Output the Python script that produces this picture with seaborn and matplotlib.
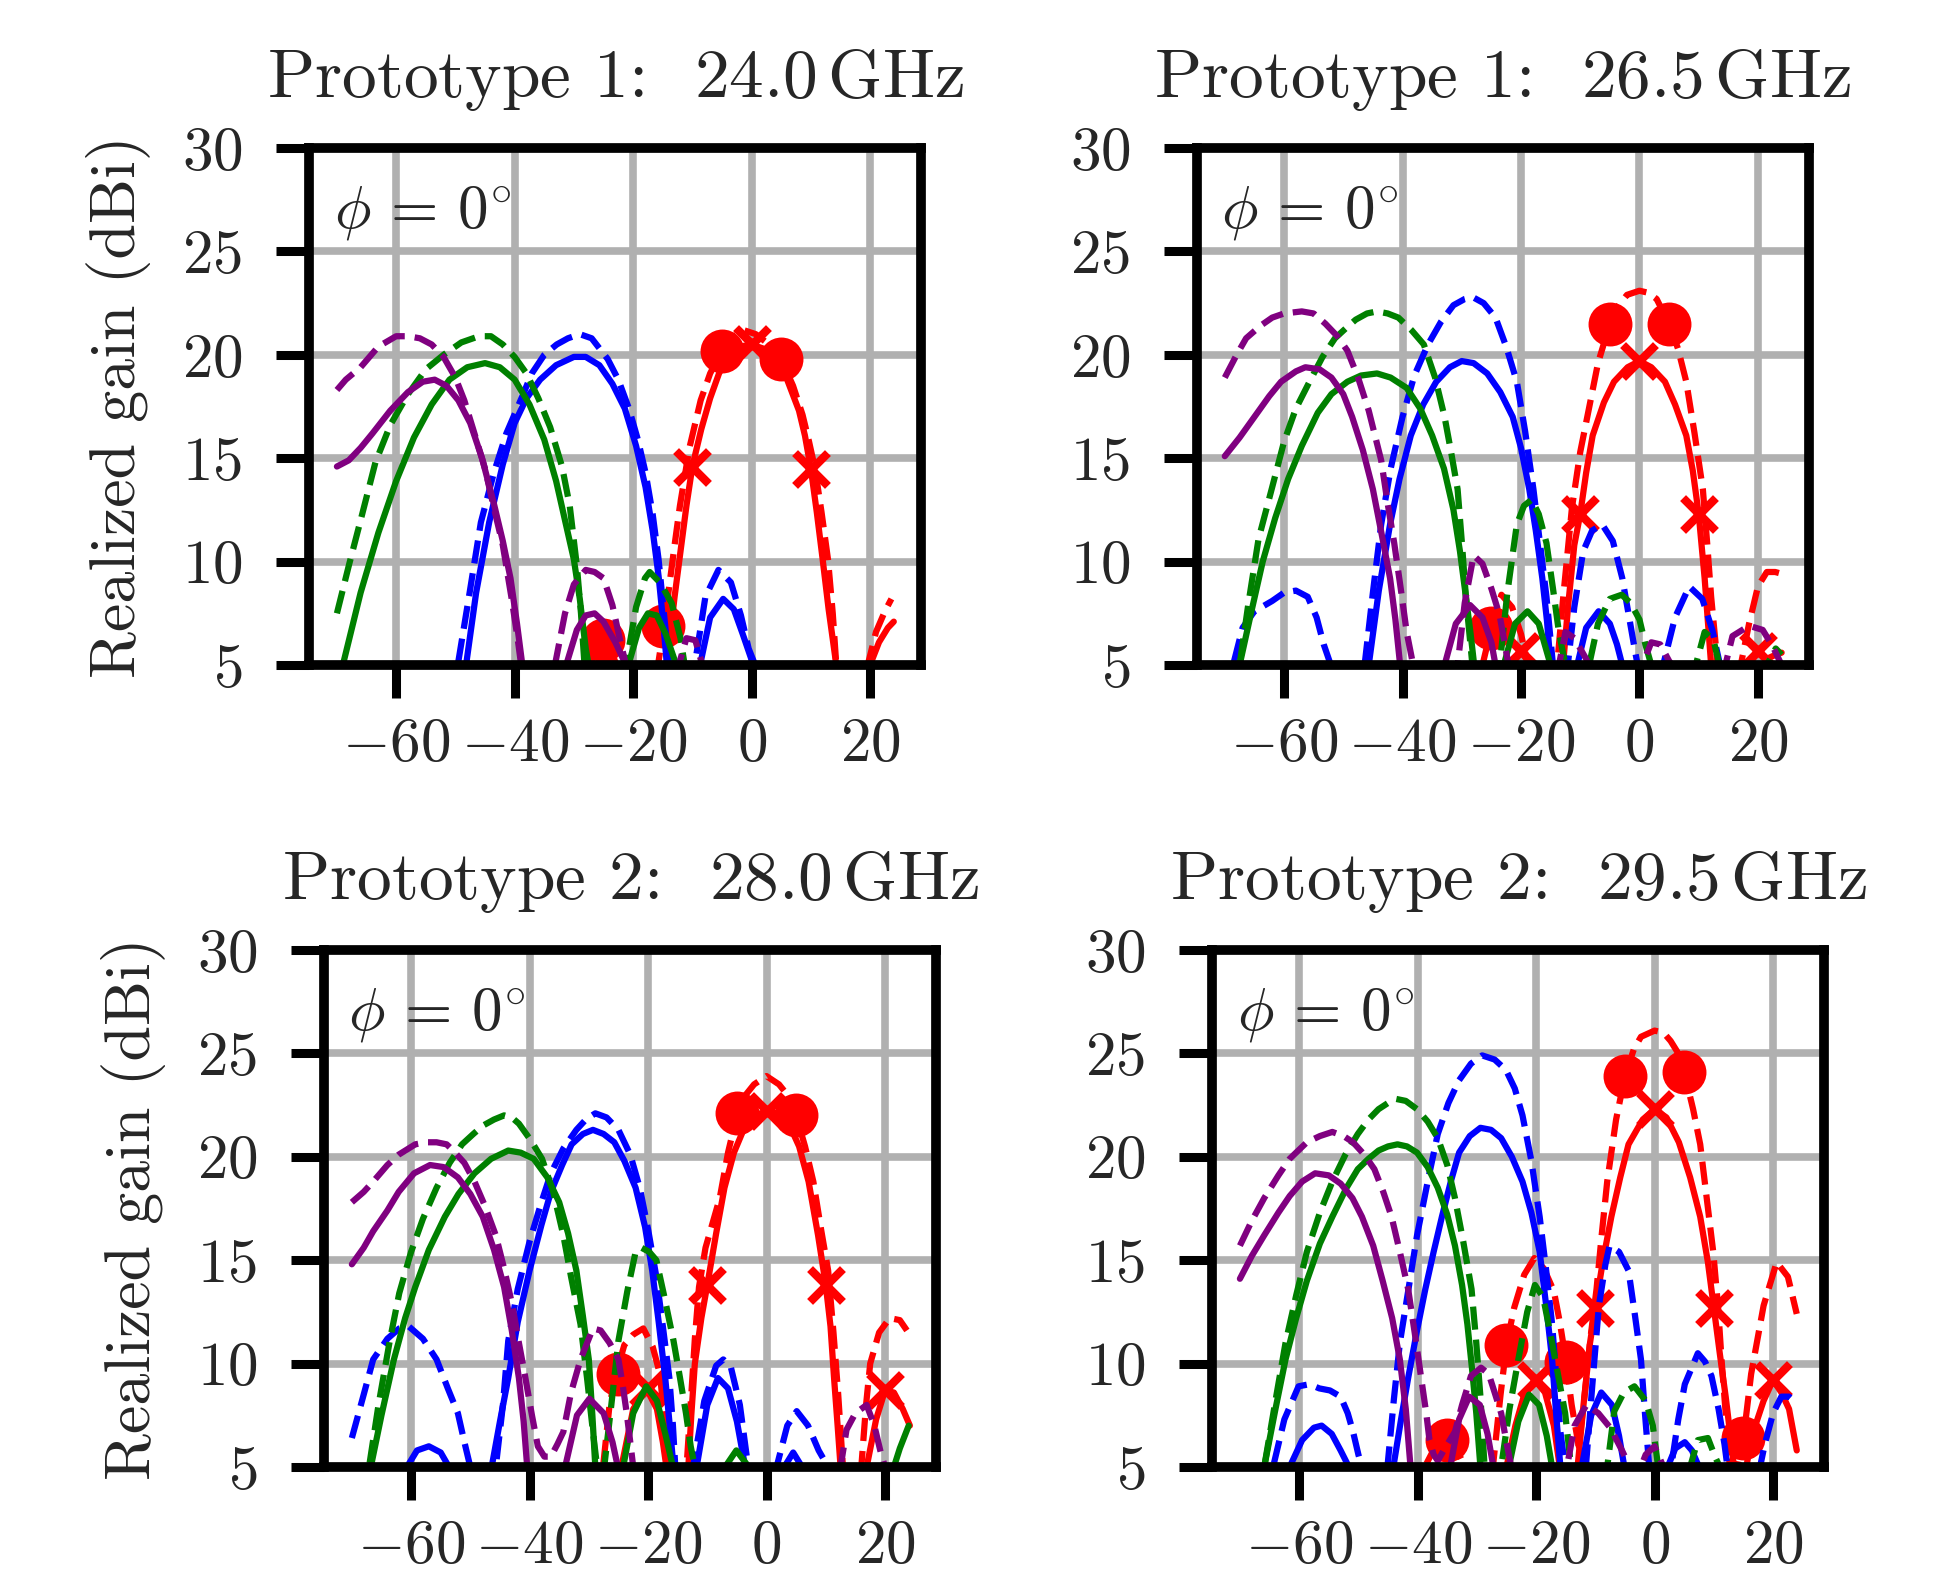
import matplotlib
matplotlib.use("Agg")
import matplotlib.pyplot as plt
import seaborn as sns

# ---------- data: (angle in deg, realized gain in dBi) ----------
# values below 5 dBi are nulls that fall outside the axis window

# Prototype 1 @ 24.0 GHz
P1_PURPLE_SOLID = [(-70, 14.6), (-68, 14.9), (-66, 15.5), (-64, 16.2), (-61, 17.3), (-58, 18.2), (-55.5, 18.7),
                   (-53.5, 18.8), (-51.5, 18.5), (-49.5, 17.8), (-47.5, 16.7), (-45.5, 15.0), (-43.5, 12.8),
                   (-42, 11.0), (-40.7, 9.2), (-39.6, 7.0), (-38.7, 5.0), (-37.5, 2.0), (-33, 2.0), (-31.3, 5.0),
                   (-29.5, 6.7), (-28, 7.4), (-26.5, 7.5), (-25, 7.1), (-23, 6.1), (-21.2, 5.0), (-20, 2.0)]
P1_PURPLE_DASHED = [(-70, 18.3), (-68.5, 18.8), (-66, 19.4), (-63, 20.4), (-60, 20.9), (-58, 20.9), (-56, 20.8),
                    (-54, 20.5), (-52, 19.9), (-50, 18.9), (-48.5, 17.8), (-47, 16.4), (-45, 14.5), (-43.5, 12.6),
                    (-42, 10.8), (-40.5, 8.2), (-39.5, 6.3), (-38.9, 5.0), (-37.5, 2.0), (-34.5, 2.0), (-33.2, 5.0),
                    (-31.5, 7.5), (-30, 8.9), (-28, 9.6), (-26.5, 9.5), (-25, 9.2), (-23.5, 7.9), (-22.2, 6.2),
                    (-21.2, 5.0), (-20, 2.0), (-13.5, 2.0), (-12.3, 5.0), (-11, 6.3), (-9.5, 6.2), (-8.3, 5.0),
                    (-7, 2.0)]
P1_GREEN_SOLID = [(-69, 5.0), (-66, 8.5), (-63, 11.4), (-60, 13.9), (-57, 16.0), (-54, 17.6), (-51, 18.8),
                  (-48, 19.4), (-45, 19.6), (-42.5, 19.4), (-40, 18.8), (-37.5, 17.6), (-35, 15.9), (-33, 13.9),
                  (-31.5, 12.0), (-30, 10.1), (-29, 8.2), (-28, 5.8), (-27.5, 5.0), (-26, 2.0), (-22, 2.0),
                  (-20.8, 5.0), (-19, 6.8), (-17.5, 7.5), (-16, 7.4), (-14.5, 6.5), (-12.7, 5.0), (-11.5, 2.0)]
P1_GREEN_DASHED = [(-70, 7.5), (-68, 9.8), (-66, 12.0), (-63.5, 14.8), (-61, 16.6), (-58, 18.1), (-55, 19.3),
                   (-52, 20.0), (-49, 20.6), (-46, 20.9), (-44, 20.9), (-42, 20.5), (-40, 19.9), (-38, 19.1),
                   (-36, 17.9), (-34, 16.5), (-32, 14.6), (-30.7, 12.7), (-29.5, 9.8), (-28.8, 7.5), (-28.2, 5.0),
                   (-27, 2.0), (-22.5, 2.0), (-21.2, 5.0), (-19.5, 7.8), (-18, 9.2), (-17.2, 9.5), (-15.5, 9.0),
                   (-13.5, 8.0), (-12, 6.3), (-11.3, 5.0), (-10, 2.0)]
P1_BLUE_SOLID = [(-50, 2.0), (-48.2, 5.0), (-46.5, 8.5), (-44.3, 11.9), (-42, 14.7), (-40, 16.7), (-38, 17.9),
                 (-35.7, 18.8), (-33, 19.5), (-30, 19.9), (-28, 19.9), (-25.7, 19.5), (-23.5, 18.6), (-21.4, 17.4),
                 (-19.5, 15.6), (-17.9, 13.6), (-16.7, 11.5), (-15.7, 9.3), (-14.9, 7.0), (-14.3, 5.0), (-13, 2.0),
                 (-10, 2.0), (-8.7, 5.0), (-7, 7.3), (-4.8, 8.2), (-3, 7.7), (-1.5, 6.5), (0.3, 5.0), (1.5, 2.0)]
P1_BLUE_DASHED = [(-51, 2.0), (-49.6, 5.0), (-47.6, 8.5), (-45.7, 11.9), (-43.5, 14.3), (-41.4, 16.2), (-39, 17.8),
                  (-37.1, 19.1), (-35, 20.0), (-32.9, 20.5), (-31, 20.8), (-29, 21.0), (-27, 20.8), (-24.3, 19.8),
                  (-22.5, 18.8), (-20.7, 17.4), (-19.2, 15.9), (-17.9, 14.3), (-16.7, 12.3), (-15.7, 10.1),
                  (-14.8, 7.5), (-13.9, 5.0), (-12.5, 2.0), (-11, 2.0), (-9.6, 5.0), (-7.8, 8.3), (-5.6, 9.6),
                  (-3.5, 9.0), (-1.8, 7.4), (-0.5, 5.8), (0.6, 5.0), (1.8, 2.0)]
P1_RED_SOLID = [(-16, 2.0), (-14.3, 5.0), (-13, 8.3), (-12, 10.5), (-11, 12.7), (-10, 14.6), (-8.5, 16.4),
                (-7, 17.9), (-5.5, 19.1), (-4, 19.9), (-2, 20.4), (0, 20.5), (2, 20.3), (4, 19.9), (6, 18.8),
                (8, 17.3), (9, 16.1), (10, 14.5), (11, 12.4), (12, 10.1), (13, 7.7), (14.3, 5.0), (16, 2.0),
                (18.5, 2.0), (20, 5.0), (21.5, 6.1), (23, 6.8), (24, 7.1)]
P1_RED_DASHED = [(-29, 2.0), (-27.3, 5.0), (-25.5, 6.3), (-24, 5.9), (-22.8, 5.0), (-21.5, 2.0), (-17, 2.0),
                 (-15.8, 5.0), (-15, 6.5), (-14, 8.6), (-13, 10.8), (-12.1, 12.7), (-10.5, 15.5), (-8.6, 17.8),
                 (-7, 19.1), (-5, 20.2), (-3, 20.9), (-1.4, 21.2), (0.7, 21.0), (2.5, 20.6), (5, 19.8), (7, 18.5),
                 (8.6, 17.1), (9.7, 15.8), (10.7, 14.5), (11.8, 12.4), (12.9, 10.1), (13.7, 7.5), (14.3, 5.0),
                 (15.5, 2.0), (18, 2.0), (19.6, 5.0), (21, 6.6), (22.5, 7.6), (23.6, 8.2)]
P1_RED_X = [(-10, 14.6), (0, 20.5), (10, 14.5)]
P1_RED_O = [(-25, 6.2), (-15, 6.9), (-5, 20.2), (5, 19.8)]

# Prototype 1 @ 26.5 GHz
P2_PURPLE_SOLID = [(-70, 15.1), (-67.5, 16.0), (-65, 17.0), (-62.5, 18.0), (-60.5, 18.7), (-58, 19.2),
                   (-56.4, 19.4), (-54, 19.3), (-52, 18.9), (-50, 18.1), (-48.5, 17.0), (-46.7, 15.4), (-45, 13.5),
                   (-43.5, 11.3), (-42.1, 9.2), (-41.2, 7.2), (-40.4, 5.0), (-39, 2.0), (-34.5, 2.0), (-32.9, 5.0),
                   (-31, 7.0), (-28.6, 7.9), (-26.5, 7.3), (-25, 6.1), (-24.3, 5.0), (-23, 2.0)]
P2_PURPLE_DASHED = [(-70, 18.9), (-68, 20.0), (-66.4, 20.8), (-64, 21.4), (-62, 21.8), (-60, 22.0), (-57, 22.1),
                    (-55, 22.0), (-53, 21.5), (-51, 20.9), (-49.3, 20.2), (-47.5, 18.9), (-45.7, 17.3),
                    (-43.6, 14.9), (-42.5, 12.8), (-41.4, 10.9), (-40.3, 8.7), (-39.3, 6.6), (-38.2, 5.0),
                    (-37, 2.0), (-32, 2.0), (-30.7, 5.0), (-29.5, 8.0), (-28, 10.3), (-26.5, 9.9), (-25, 8.7),
                    (-23.6, 7.4), (-22.1, 5.0), (-21, 2.0), (-14.5, 2.0), (-13.6, 5.0), (-12.5, 6.6), (-11, 6.3),
                    (-9, 5.3), (-8.5, 5.0), (-7.5, 2.0), (-0.5, 2.0), (0.5, 5.0), (2, 6.1), (3.5, 6.0), (5, 5.2),
                    (5.5, 5.0), (6.5, 2.0), (13.5, 2.0), (14.5, 5.0), (15.7, 6.4), (18.5, 6.9), (20.8, 6.7),
                    (22.5, 5.9), (24, 5.0)]
P2_GREEN_SOLID = [(-69, 2.0), (-67.5, 5.0), (-65.5, 7.6), (-63.6, 10.0), (-61.5, 12.1), (-59.3, 14.0), (-57, 15.6),
                  (-54.3, 17.2), (-52, 18.1), (-49.3, 18.7), (-47, 19.0), (-44.3, 19.1), (-42, 18.9), (-39.3, 18.4),
                  (-37, 17.4), (-35, 16.1), (-33, 14.5), (-31.4, 12.5), (-30.3, 10.5), (-29.3, 8.3), (-28.5, 6.5),
                  (-27.9, 5.0), (-26.5, 2.0), (-24.5, 2.0), (-22.9, 5.0), (-21, 7.0), (-18.9, 7.6), (-17, 7.0),
                  (-15, 5.0), (-14, 2.0)]
P2_GREEN_DASHED = [(-69, 2.0), (-67.5, 5.0), (-66, 8.0), (-64.3, 11.1), (-62, 13.6), (-60, 15.8), (-58, 17.4),
                   (-55.7, 18.7), (-53.5, 19.9), (-51.4, 20.8), (-49.5, 21.3), (-47.9, 21.7), (-46, 22.0),
                   (-44.3, 22.1), (-42.5, 22.0), (-40.7, 21.8), (-38.5, 21.2), (-36.4, 20.5), (-34.5, 18.9),
                   (-32.9, 17.0), (-31.8, 15.3), (-30.7, 13.5), (-30, 11.0), (-29.3, 8.3), (-28.7, 6.5),
                   (-28.2, 5.0), (-27, 2.0), (-25, 2.0), (-23.6, 5.0), (-22.3, 8.5), (-20.7, 11.8), (-19.5, 12.7),
                   (-18.2, 13.0), (-17, 12.3), (-15.7, 10.9), (-14.6, 8.7), (-13.6, 6.6), (-12.5, 5.0), (-11, 2.0),
                   (-9.5, 2.0), (-8.5, 5.0), (-7, 7.0), (-5, 8.2), (-3, 8.4), (-1.5, 8.0), (0, 7.2), (1, 6.0),
                   (2, 5.0), (3, 2.0), (8.5, 2.0), (9.5, 5.0), (11, 6.6), (12.5, 6.2), (13.5, 5.0), (14.5, 2.0),
                   (20.5, 2.0), (21.5, 5.0), (23, 5.8), (24, 5.5)]
P2_BLUE_SOLID = [(-47.5, 2.0), (-45.7, 5.0), (-44, 8.6), (-42.1, 11.8), (-40.5, 14.0), (-38.6, 16.1), (-36.5, 17.6),
                 (-34.3, 18.7), (-32, 19.4), (-30, 19.7), (-28, 19.6), (-25.7, 19.1), (-23.5, 18.2), (-21.4, 17.0),
                 (-20, 15.5), (-18.6, 13.5), (-17.5, 11.5), (-16.4, 9.2), (-15.6, 7.1), (-15, 5.0), (-13.5, 2.0),
                 (-12, 2.0), (-10.5, 5.0), (-9, 6.8), (-6.9, 7.6), (-5, 7.0), (-3.8, 6.0), (-2.9, 5.0), (-1.5, 2.0)]
P2_BLUE_DASHED = [(-70, 2.0), (-68.6, 5.0), (-67, 6.8), (-65, 7.6), (-62, 8.1), (-60, 8.5), (-58, 8.6), (-56, 8.3),
                  (-54.5, 7.3), (-53.3, 6.0), (-52.1, 5.0), (-51, 2.0), (-48, 2.0), (-46.4, 5.0), (-45, 8.5),
                  (-43.6, 11.8), (-42, 14.5), (-40, 17.0), (-38, 19.0), (-35.7, 20.5), (-33.5, 21.6), (-31.4, 22.4),
                  (-29.5, 22.7), (-28.2, 22.8), (-26.3, 22.5), (-24.3, 21.8), (-22.5, 20.4), (-20.7, 18.7),
                  (-19.3, 16.3), (-17.9, 13.5), (-16.8, 10.9), (-15.7, 8.3), (-15.1, 6.5), (-14.6, 5.0),
                  (-13.5, 2.0), (-13, 2.0), (-12.1, 5.0), (-11, 7.8), (-9.5, 10.5), (-8, 11.5), (-6.3, 11.8),
                  (-4.5, 11.0), (-2.9, 9.2), (-1.8, 7.4), (-0.7, 5.6), (-0.3, 5.0), (1, 2.0), (2.8, 2.0), (4, 5.0),
                  (6, 7.3), (8.4, 8.8), (10.6, 8.2), (12.3, 6.7), (13.6, 5.0), (15, 2.0)]
P2_RED_SOLID = [(-23, 2.0), (-21.5, 5.0), (-20, 5.7), (-18.5, 5.0), (-17, 2.0), (-14.5, 2.0), (-12.9, 5.0),
                (-12, 8.0), (-11, 10.8), (-10, 12.3), (-9, 14.3), (-7.9, 16.1), (-6, 17.7), (-4.3, 18.7),
                (-2, 19.4), (0, 19.7), (2, 19.4), (4.3, 18.7), (6, 17.6), (7.9, 16.1), (9, 14.4), (10, 12.3),
                (11, 9.2), (12.1, 5.0), (13, 2.0), (17.5, 2.0), (18.5, 5.0), (20, 5.7), (21.5, 5.3), (23, 5.5),
                (24, 5.6)]
P2_RED_DASHED = [(-28, 2.0), (-26.5, 5.0), (-25, 6.8), (-23.3, 8.4), (-21.5, 7.8), (-20, 6.5), (-18.8, 5.0),
                 (-17.5, 2.0), (-15, 2.0), (-13.9, 5.0), (-12.8, 8.5), (-11.4, 12.6), (-10, 15.3), (-8.6, 17.3),
                 (-7, 19.6), (-5, 21.5), (-3.5, 22.4), (-2.1, 22.9), (0, 23.1), (1.5, 23.0), (2.9, 22.7), (5, 21.5),
                 (6.5, 20.3), (7.9, 18.7), (9.3, 16.2), (10.7, 13.5), (11.4, 11.0), (12.1, 8.3), (12.7, 6.5),
                 (13.2, 5.0), (14.5, 2.0), (16, 2.0), (17.1, 5.0), (18.5, 7.0), (20, 8.8), (21.5, 9.5),
                 (22.9, 9.5), (24.2, 9.4)]
P2_RED_X = [(-20, 5.7), (-10, 12.3), (0, 19.7), (10, 12.3), (20, 5.7)]
P2_RED_O = [(-25, 6.8), (-5, 21.5), (5, 21.5)]

# Prototype 2 @ 28.0 GHz
P3_PURPLE_SOLID = [(-70, 14.8), (-68, 15.6), (-66.4, 16.4), (-64, 17.4), (-62.1, 18.3), (-59.5, 19.2),
                   (-56.8, 19.6), (-54.5, 19.5), (-52.1, 19.0), (-50, 18.2), (-47.9, 17.1), (-46, 15.5),
                   (-44.3, 13.7), (-43, 11.6), (-41.8, 9.3), (-41, 7.2), (-40.4, 5.0), (-39, 2.0), (-35.5, 2.0),
                   (-34, 5.0), (-32, 7.5), (-29.9, 8.3), (-27.5, 7.6), (-26, 6.2), (-25.1, 5.0), (-24, 2.0)]
P3_PURPLE_DASHED = [(-70, 17.8), (-68, 18.3), (-66.4, 18.8), (-64, 19.6), (-62.1, 20.1), (-59.3, 20.6),
                    (-57.5, 20.7), (-55.7, 20.7), (-54, 20.6), (-52.9, 20.3), (-51, 19.7), (-49.3, 18.8),
                    (-47.5, 17.6), (-45.7, 16.2), (-44.3, 14.6), (-42.9, 12.8), (-41.8, 11.0), (-40.7, 9.3),
                    (-39.6, 7.5), (-38.6, 6.0), (-37.5, 5.5), (-36.4, 5.5), (-35.3, 6.1), (-34.3, 6.7),
                    (-33, 8.6), (-31.4, 10.2), (-29.3, 11.7), (-28, 11.6), (-26.5, 11.0), (-25, 10.2),
                    (-24.3, 9.0), (-23.6, 7.6), (-23, 6.2), (-22.5, 5.0), (-21.5, 2.0), (11.5, 2.0), (12.5, 5.0),
                    (13.5, 6.8), (15, 7.6), (16.9, 8.0), (18.2, 7.0), (19.2, 5.8), (20, 5.0), (21, 2.0)]
P3_GREEN_SOLID = [(-68, 2.0), (-66.8, 5.0), (-65, 7.5), (-62.9, 10.2), (-61, 12.2), (-59.3, 13.7), (-57, 15.5),
                  (-54.3, 17.1), (-52, 18.2), (-49.3, 19.2), (-46.5, 19.9), (-43.6, 20.3), (-41.5, 20.2),
                  (-39.3, 19.9), (-37, 19.0), (-35, 17.8), (-33.5, 16.3), (-32.1, 14.5), (-31, 12.3), (-30, 10.2),
                  (-29.4, 7.5), (-28.9, 5.0), (-27.5, 2.0), (-25.5, 2.0), (-24.2, 5.0), (-22.5, 7.6),
                  (-20.3, 8.9), (-18.5, 8.2), (-17, 6.5), (-15.8, 5.0), (-14.5, 2.0), (-8, 2.0), (-7, 5.0),
                  (-5.1, 5.8), (-3, 5.0), (-2, 2.0), (20.5, 2.0), (21.5, 5.0), (22.5, 5.9), (24, 7.0)]
P3_GREEN_DASHED = [(-68, 2.0), (-67.1, 5.0), (-65.5, 8.0), (-63.6, 11.1), (-62, 13.4), (-60, 15.4), (-58, 17.0),
                   (-55.7, 18.5), (-53.5, 19.7), (-51.4, 20.6), (-49.5, 21.1), (-47.9, 21.5), (-46, 21.8),
                   (-44.3, 22.0), (-43, 21.9), (-41.8, 21.6), (-39.8, 20.8), (-37.9, 19.9), (-36, 18.3),
                   (-34.3, 16.2), (-33, 14.2), (-31.4, 11.9), (-30.3, 9.3), (-29.3, 6.7), (-28.6, 5.0), (-28, 4.0),
                   (-27.4, 5.0), (-26.2, 8.0), (-25, 11.1), (-23.5, 13.5), (-22.1, 15.4), (-21.1, 15.6),
                   (-19.8, 15.4), (-18.6, 15.0), (-17.3, 13.3), (-15.7, 11.1), (-14.6, 9.3), (-13.6, 7.6),
                   (-12.8, 6.0), (-12.1, 5.0), (-11, 2.0)]
P3_BLUE_SOLID = [(-62, 2.0), (-60.7, 5.0), (-59, 5.8), (-57, 6.0), (-55, 5.7), (-53.6, 5.0), (-52, 2.0), (-48, 2.0),
                 (-46.4, 5.0), (-45, 7.2), (-43.6, 9.3), (-42, 12.0), (-40, 14.5), (-38, 16.7), (-36.4, 18.3),
                 (-34.5, 19.6), (-32.9, 20.6), (-31, 21.1), (-29.3, 21.3), (-27.5, 21.1), (-25.7, 20.7),
                 (-24, 19.8), (-22.1, 18.5), (-20.5, 16.6), (-19.3, 14.5), (-18.2, 12.0), (-17.1, 9.3),
                 (-16.4, 7.2), (-15.7, 5.0), (-14.5, 2.0), (-13, 2.0), (-11.8, 5.0), (-10, 8.0), (-8.2, 9.3),
                 (-6.5, 8.8), (-5, 7.2), (-3.6, 5.0), (-2.5, 2.0), (1.5, 2.0), (3, 5.0), (4.5, 5.7), (6, 5.0),
                 (7, 2.0)]
P3_BLUE_DASHED = [(-70, 6.4), (-68, 8.5), (-66.4, 10.2), (-64, 11.2), (-62, 11.7), (-60.4, 11.8), (-58, 11.2),
                  (-55.7, 10.2), (-53.8, 8.8), (-52.1, 7.6), (-51, 6.2), (-50, 5.0), (-48.5, 2.0), (-47, 2.0),
                  (-45.7, 5.0), (-44.5, 8.0), (-43.6, 11.1), (-42, 13.6), (-40, 15.9), (-38, 17.8), (-36.4, 19.2),
                  (-34.3, 20.4), (-32.1, 21.3), (-30.5, 21.8), (-28.9, 22.1), (-27, 21.9), (-25, 21.3),
                  (-23, 20.1), (-21.4, 18.5), (-20, 16.5), (-18.6, 14.2), (-17.5, 11.8), (-16.4, 9.3),
                  (-15.8, 7.0), (-15.4, 5.0), (-14, 2.0), (-13.5, 2.0), (-12.4, 5.0), (-10.5, 8.2), (-8.5, 9.9),
                  (-7.3, 10.2), (-6, 9.8), (-4.5, 8.0), (-3.1, 5.0), (-2, 2.0), (0.5, 2.0), (1.7, 5.0), (3.5, 7.0),
                  (5.1, 7.7), (7, 7.0), (8.8, 5.8), (10.4, 5.0), (11.5, 2.0)]
P3_RED_SOLID = [(-26, 2.0), (-24.5, 5.0), (-22.5, 7.8), (-20.3, 8.8), (-18.5, 7.8), (-17.5, 6.2), (-16.9, 5.0),
                (-15.5, 2.0), (-14, 2.0), (-13.2, 5.0), (-12.7, 7.5), (-12.1, 10.0), (-11, 12.2), (-10, 13.8),
                (-8.5, 16.3), (-7.1, 18.5), (-5.5, 20.2), (-3.6, 21.5), (-2, 22.0), (0, 22.2), (1.8, 22.1),
                (3.6, 21.7), (5.5, 20.5), (7.1, 18.8), (8.7, 16.2), (10, 13.8), (10.8, 11.8), (11.4, 9.3),
                (12, 7.0), (12.5, 5.0), (13.5, 2.0), (15.5, 2.0), (16.9, 5.0), (18.5, 7.3), (20, 8.7),
                (21.5, 8.6), (23, 7.8), (24.2, 7.0)]
P3_RED_DASHED = [(-28.5, 2.0), (-27.6, 5.0), (-26.5, 8.0), (-25.3, 9.6), (-24, 10.9), (-22.5, 11.4), (-20.8, 11.7),
                 (-19.2, 10.8), (-18, 9.5), (-17.3, 7.5), (-16.9, 5.0), (-16, 2.0), (-14.5, 2.0), (-13.5, 5.0),
                 (-12.7, 8.5), (-12.1, 11.2), (-11.4, 13.7), (-10.3, 15.6), (-7.9, 18.0), (-6.5, 20.2), (-5, 22.0),
                 (-3.5, 23.0), (-2.1, 23.5), (0, 23.9), (2.1, 23.5), (3.5, 23.0), (5, 22.0), (6.5, 20.5),
                 (7.9, 18.8), (9.2, 16.5), (10.4, 14.5), (11.3, 11.5), (12.1, 8.5), (12.9, 5.0), (14, 2.0),
                 (15, 2.0), (16, 5.0), (16.8, 8.0), (17.5, 10.0), (19, 11.5), (20.8, 12.2), (22.5, 12.1),
                 (23.7, 11.6)]
P3_RED_X = [(-20, 8.8), (-10, 13.8), (0, 22.2), (10, 13.8), (20, 8.7)]
P3_RED_O = [(-25, 9.5), (-5, 22.1), (5, 22.0)]

# Prototype 2 @ 29.5 GHz
P4_PURPLE_SOLID = [(-70, 14.1), (-68, 15.2), (-65.9, 16.2), (-63.5, 17.3), (-61.6, 18.1), (-59.5, 18.8),
                   (-57.3, 19.2), (-55, 19.1), (-53, 18.7), (-51, 18.0), (-49.4, 17.1), (-47.5, 15.7),
                   (-45.9, 14.0), (-44.3, 12.2), (-43, 10.2), (-42, 7.8), (-41.2, 5.0), (-40, 2.0), (-36, 2.0),
                   (-34.5, 5.0), (-33, 7.3), (-31.3, 8.4), (-29.5, 8.0), (-28.2, 6.6), (-27.2, 5.0), (-26, 2.0)]
P4_PURPLE_DASHED = [(-70, 15.7), (-68, 16.9), (-65.9, 18.0), (-63.5, 19.1), (-61.6, 19.9), (-58.7, 20.7),
                    (-56.5, 21.0), (-54.4, 21.2), (-52.5, 21.0), (-50.9, 20.7), (-49, 20.1), (-47.3, 19.4),
                    (-45.8, 18.3), (-44.4, 17.1), (-43, 15.4), (-41.6, 13.6), (-40.5, 11.5), (-39.4, 9.3),
                    (-38.5, 7.5), (-38, 6.3), (-37.3, 5.6), (-36.6, 5.3), (-35.2, 6.0), (-33.7, 6.7), (-32.5, 8.0),
                    (-31, 9.4), (-29.3, 9.8), (-28, 9.5), (-27, 8.6), (-25.9, 7.6), (-25, 6.2), (-24.2, 5.0),
                    (-23, 2.0), (-16, 2.0), (-14.8, 5.0), (-13.5, 7.0), (-11.5, 8.0), (-9.5, 7.6), (-7.5, 6.9),
                    (-5.5, 5.8), (-4.2, 5.0), (-3, 4.5), (-1.5, 5.6), (0, 6.0), (1.5, 5.0), (2.5, 2.0)]
P4_GREEN_SOLID = [(-67, 2.0), (-65.9, 5.0), (-64, 7.8), (-62.3, 10.2), (-60.5, 12.2), (-58.7, 14.0), (-56.5, 15.8),
                  (-54.4, 17.1), (-52, 18.5), (-50.1, 19.4), (-48.3, 19.9), (-46.6, 20.3), (-45, 20.5),
                  (-43.4, 20.6), (-41.8, 20.5), (-40.1, 20.2), (-38.3, 19.5), (-36.6, 18.5), (-35, 17.2),
                  (-33.7, 15.7), (-32.5, 13.8), (-31.6, 11.9), (-30.8, 9.7), (-30.1, 7.6), (-29.4, 5.0),
                  (-28, 2.0), (-26, 2.0), (-24.6, 5.0), (-23, 7.2), (-21.2, 8.5), (-19.5, 8.0), (-18.2, 6.5),
                  (-17.3, 5.0), (-16, 2.0)]
P4_GREEN_DASHED = [(-67, 2.0), (-65.9, 5.0), (-64, 8.2), (-62.3, 11.0), (-60.5, 13.3), (-58.7, 15.4),
                   (-56.5, 17.3), (-54.4, 18.8), (-52.2, 20.1), (-50.1, 21.1), (-48.3, 21.8), (-46.6, 22.3),
                   (-45, 22.6), (-43.7, 22.8), (-42, 22.7), (-40.1, 22.3), (-38.3, 21.7), (-36.6, 20.9),
                   (-35, 19.6), (-33.7, 18.0), (-32.3, 15.9), (-30.9, 13.6), (-30.1, 11.0), (-29.4, 8.4),
                   (-28.7, 5.0), (-27.8, 2.0), (-27, 2.0), (-25.9, 5.0), (-24.5, 7.8), (-23, 10.2), (-21.5, 12.5),
                   (-20.2, 13.8), (-18.8, 13.2), (-17.3, 11.0), (-16, 9.0), (-15.1, 7.6), (-14.1, 5.0), (-13, 2.0),
                   (-9, 2.0), (-8, 5.0), (-6.8, 7.7), (-5.2, 8.6), (-3.4, 8.9), (-1.5, 8.2), (-0.3, 7.0),
                   (0.6, 5.0), (1.5, 2.0), (5, 2.0), (6, 5.0), (7.3, 6.3), (9, 6.4), (10.2, 5.5), (11, 5.0),
                   (12, 2.0)]
P4_BLUE_SOLID = [(-63, 2.0), (-61.6, 5.0), (-59.5, 6.3), (-57.5, 6.9), (-56.2, 7.0), (-54.5, 6.6), (-53, 5.8),
                 (-51.6, 5.0), (-50, 2.0), (-45.5, 2.0), (-44.1, 5.0), (-42.8, 7.3), (-41.6, 9.3), (-40.1, 11.6),
                 (-38.7, 13.6), (-37.3, 15.4), (-35.9, 17.1), (-34.4, 18.8), (-33, 20.2), (-31.2, 21.0),
                 (-29.4, 21.4), (-27.6, 21.3), (-25.9, 20.9), (-24.1, 20.0), (-22.3, 18.8), (-20.8, 17.3),
                 (-19.4, 15.4), (-18.3, 12.8), (-17.3, 10.2), (-16.6, 7.5), (-15.9, 5.0), (-14.5, 2.0),
                 (-13.5, 2.0), (-12.3, 5.0), (-10.7, 7.5), (-9, 8.6), (-7.2, 8.0), (-6, 6.5), (-5.1, 5.0),
                 (-4, 2.0), (1, 2.0), (2.2, 5.0), (3.5, 5.9), (5.1, 6.2), (6.3, 5.8), (7.5, 5.0), (8.5, 2.0)]
P4_BLUE_DASHED = [(-65.5, 2.0), (-64.4, 5.0), (-62.5, 7.3), (-60.1, 8.9), (-58.3, 9.0), (-56.6, 8.8), (-54.8, 8.7),
                  (-53, 8.4), (-51.8, 7.6), (-50.9, 6.7), (-50, 5.6), (-49.4, 5.0), (-48, 2.0), (-46.5, 2.0),
                  (-45.1, 5.0), (-44, 8.3), (-43, 11.0), (-41.6, 13.5), (-40.1, 16.2), (-38.3, 18.8),
                  (-36.6, 21.1), (-34.8, 22.6), (-33, 23.7), (-31, 24.5), (-29.1, 24.9), (-27, 24.7),
                  (-25.1, 24.2), (-23.6, 23.3), (-22.3, 22.0), (-20.8, 19.8), (-19.4, 17.1), (-18.3, 14.5),
                  (-17.3, 11.9), (-16.5, 9.0), (-15.9, 6.7), (-15.1, 5.0), (-14, 2.0), (-13, 2.0), (-11.6, 5.0),
                  (-10.5, 9.0), (-9.4, 12.8), (-8.3, 14.8), (-7.6, 15.7), (-6, 15.4), (-4.4, 14.5), (-3.3, 12.3),
                  (-2.3, 10.2), (-1.6, 7.5), (-0.9, 5.0), (0.2, 2.0), (1.8, 2.0), (2.8, 5.0), (4, 7.3), (5.1, 9.0),
                  (7.3, 10.5), (8.5, 10.1), (9.6, 9.4), (10.8, 7.8), (11.8, 6.1), (12.3, 5.0), (13.5, 2.0),
                  (16.5, 2.0), (17.8, 5.0), (18.6, 6.1), (20, 7.6), (21.4, 8.4), (22.7, 8.4), (23.9, 8.1)]
P4_RED_SOLID = [(-26.5, 2.0), (-25, 5.0), (-23.5, 7.0), (-22, 8.5), (-20.2, 9.2), (-18.5, 8.6), (-17, 7.0),
                (-16, 5.0), (-15, 2.0), (-14.5, 2.0), (-13, 5.0), (-12, 8.0), (-10.9, 11.0), (-10, 12.7),
                (-8.7, 15.0), (-7.3, 17.1), (-5.8, 19.0), (-4.4, 20.6), (-2, 21.8), (0, 22.3), (2, 21.9),
                (4.1, 20.7), (6, 19.0), (7.7, 17.1), (9, 14.9), (10, 12.7), (11, 10.5), (12, 8.4), (12.8, 6.5),
                (13.4, 5.0), (14.5, 2.0), (15.5, 5.0), (16.3, 6.4), (18.4, 8.2), (20, 9.2), (21.4, 8.6),
                (22.7, 7.8), (24, 5.8)]
P4_RED_DASHED = [(-40, 2.0), (-38.8, 5.0), (-37, 6.0), (-35.2, 6.3), (-33.5, 5.9), (-32, 5.0), (-31, 2.0),
                 (-28.5, 2.0), (-27.3, 5.0), (-26, 8.5), (-25, 10.9), (-23.7, 12.7), (-22, 14.3), (-20.3, 15.1),
                 (-18.7, 14.6), (-17, 13.5), (-16, 12.0), (-15, 10.2), (-14, 8.0), (-12.8, 6.0), (-11.8, 8.5),
                 (-10.8, 11.3), (-9.8, 13.6), (-8.9, 16.3), (-8, 18.8), (-6.5, 21.8), (-5, 23.9), (-3.5, 25.2),
                 (-2.3, 25.8), (0, 26.1), (1.5, 26.0), (2.7, 25.6), (4, 25.0), (5, 24.1), (6.5, 22.3),
                 (7.7, 20.6), (8.8, 18.0), (9.9, 15.4), (10.7, 12.8), (11.3, 10.2), (12, 7.6), (12.7, 5.0),
                 (13.3, 4.0), (14, 5.0), (15, 6.4), (16.3, 9.5), (18.4, 12.8), (20.6, 14.9), (22.5, 14.2),
                 (24, 12.4)]
P4_RED_X = [(-20, 9.2), (-10, 12.7), (0, 22.3), (10, 12.7), (20, 9.2)]
P4_RED_O = [(-35, 6.3), (-25, 10.9), (-15, 10.1), (-5, 23.9), (5, 24.1), (15, 6.4)]

TITLES = ["Prototype 1:  24.0$\\,$GHz", "Prototype 1:  26.5$\\,$GHz",
          "Prototype 2:  28.0$\\,$GHz", "Prototype 2:  29.5$\\,$GHz"]
X_TICKS = [-60, -40, -20, 0, 20]
Y_TICKS = [5, 10, 15, 20, 25, 30]

# ---------- style ----------
sns.set_style("whitegrid")
plt.rcParams.update({
    "font.family": "serif",
    "font.serif": ["cmr10"],
    "mathtext.fontset": "cm",
    "axes.formatter.use_mathtext": True,
    "axes.unicode_minus": True,
    "axes.edgecolor": "black",
    "axes.linewidth": 7,
    "axes.axisbelow": True,
})

FS = 44
LW = 4.5
COLORS = {"red": "#ff0000", "blue": "#0000ff", "green": "#008000", "purple": "#800080"}

panels = [
    (TITLES[0], [("red", P1_RED_SOLID, P1_RED_DASHED), ("blue", P1_BLUE_SOLID, P1_BLUE_DASHED),
                 ("green", P1_GREEN_SOLID, P1_GREEN_DASHED), ("purple", P1_PURPLE_SOLID, P1_PURPLE_DASHED)],
     P1_RED_X, P1_RED_O),
    (TITLES[1], [("red", P2_RED_SOLID, P2_RED_DASHED), ("blue", P2_BLUE_SOLID, P2_BLUE_DASHED),
                 ("green", P2_GREEN_SOLID, P2_GREEN_DASHED), ("purple", P2_PURPLE_SOLID, P2_PURPLE_DASHED)],
     P2_RED_X, P2_RED_O),
    (TITLES[2], [("red", P3_RED_SOLID, P3_RED_DASHED), ("blue", P3_BLUE_SOLID, P3_BLUE_DASHED),
                 ("green", P3_GREEN_SOLID, P3_GREEN_DASHED), ("purple", P3_PURPLE_SOLID, P3_PURPLE_DASHED)],
     P3_RED_X, P3_RED_O),
    (TITLES[3], [("red", P4_RED_SOLID, P4_RED_DASHED), ("blue", P4_BLUE_SOLID, P4_BLUE_DASHED),
                 ("green", P4_GREEN_SOLID, P4_GREEN_DASHED), ("purple", P4_PURPLE_SOLID, P4_PURPLE_DASHED)],
     P4_RED_X, P4_RED_O),
]

# axes rectangles in figure fractions (left, bottom, width, height)
RECTS = [[0.1594, 0.5772, 0.3156, 0.3287], [0.6173, 0.5772, 0.3156, 0.3287],
         [0.1671, 0.0674, 0.3156, 0.3287], [0.6251, 0.0674, 0.3156, 0.3287]]

fig = plt.figure(figsize=(19.39, 15.73), dpi=100)

for i, (title, curves, x_marks, o_marks) in enumerate(panels):
    ax = fig.add_axes(RECTS[i])
    z = 2
    for name, solid, dashed in curves:
        for pts, ls in ((solid, "-"), (dashed, "--")):
            xs = [p[0] for p in pts]
            ys = [p[1] for p in pts]
            sns.lineplot(x=xs, y=ys, ax=ax, color=COLORS[name], linewidth=LW, linestyle=ls,
                         sort=False, estimator=None, errorbar=None, legend=False, zorder=z)
            z += 0.01
        if name == "red":
            sns.scatterplot(x=[p[0] for p in o_marks], y=[p[1] for p in o_marks], ax=ax, marker="o",
                            s=1000, color=COLORS["red"], edgecolor=COLORS["red"], linewidth=0,
                            legend=False, zorder=z)
            sns.scatterplot(x=[p[0] for p in x_marks], y=[p[1] for p in x_marks], ax=ax, marker="x",
                            s=560, color=COLORS["red"], linewidth=6, legend=False, zorder=z)
            z += 0.01

    ax.set_xlim(-74.7, 28.6)
    ax.set_ylim(5, 30)
    ax.set_xticks(X_TICKS)
    ax.set_yticks(Y_TICKS)
    ax.grid(True, color="#b0b0b0", linewidth=5.5)
    for sp in ax.spines.values():
        sp.set_linewidth(7)
        sp.set_color("black")
        sp.set_zorder(5)
    ax.tick_params(axis="both", direction="out", length=24, width=6.5,
                   labelsize=FS, color="black", bottom=True, left=True)
    ax.tick_params(axis="y", pad=24)
    ax.tick_params(axis="x", pad=14)
    ax.set_title(title, fontsize=50, pad=37)
    ax.text(0.04, 0.845, r"$\phi\,=\,0^{\circ}$", transform=ax.transAxes, fontsize=FS,
            ha="left", va="baseline")
    ax.set_xlabel("")
    if i % 2 == 0:
        ax.set_ylabel("Realized gain (dBi)", fontsize=46)
        ax.yaxis.set_label_coords(-0.258, 0.5)
    else:
        ax.set_ylabel("")

fig.savefig("out.png", dpi=100)
